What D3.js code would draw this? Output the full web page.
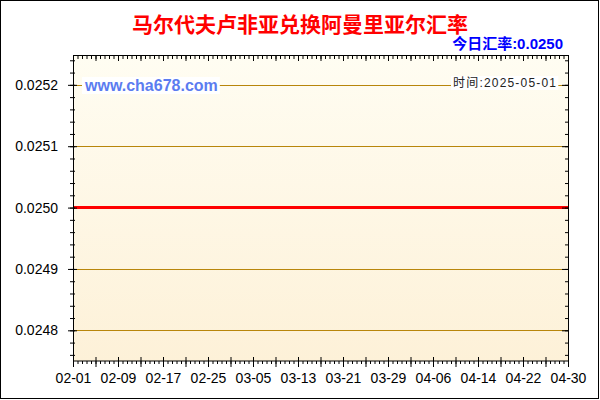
<!DOCTYPE html>
<html>
<head>
<meta charset="utf-8">
<script src="https://cdn.jsdelivr.net/npm/d3@7"></script>
<style>
    body { margin: 0; background: #fff; }
    svg { display: block; }
</style>
</head>
<body>
<div id="chart"></div>
<script>

// chart values
const titleText = "马尔代夫卢非亚兑换阿曼里亚尔汇率";
const todayLabel = "今日汇率:0.0250";
const timeLabel = "时间:2025-05-01";
const siteLabel = "www.cha678.com";

const tickLabels = ["02-01", "02-09", "02-17", "02-25", "03-05", "03-13",
    "03-21", "03-29", "04-06", "04-14", "04-22", "04-30"];
const yTickValues = [0.0248, 0.0249, 0.0250, 0.0251, 0.0252];
const yDomain = [0.02475, 0.025247];

const seriesDates = ["2025-02-01", "2025-02-09", "2025-02-17", "2025-02-25",
    "2025-03-05", "2025-03-13", "2025-03-21", "2025-03-29", "2025-04-06",
    "2025-04-14", "2025-04-22", "2025-04-30"];
const seriesRates = [0.0250, 0.0250, 0.0250, 0.0250, 0.0250, 0.0250,
    0.0250, 0.0250, 0.0250, 0.0250, 0.0250, 0.0250];

const W = 600, H = 400;
const margin = {top: 56, right: 32, bottom: 39, left: 73};
const width = W - margin.left - margin.right;
const height = H - margin.top - margin.bottom;

const parse = d3.utcParse("%Y-%m-%d");
const DAY = 864e5;
const start = parse(seriesDates[0]);
const end = parse(seriesDates[seriesDates.length - 1]);

const svg = d3.select("#chart").append("svg")
    .attr("width", W)
    .attr("height", H);

// background gradient of the plot area
const grad = svg.append("defs").append("linearGradient")
    .attr("id", "bg")
    .attr("x1", 0).attr("y1", 0).attr("x2", 0).attr("y2", 1);
grad.append("stop").attr("offset", "0%").attr("stop-color", "#fffdf2");
grad.append("stop").attr("offset", "100%").attr("stop-color", "#fdf1d8");

// outer frame
svg.append("rect")
    .attr("x", 0.5).attr("y", 0.5)
    .attr("width", 598).attr("height", 398)
    .attr("fill", "#fff")
    .attr("stroke", "#000");

const x = d3.scaleUtc().domain([start, end]).range([0, width]);
const y = d3.scaleLinear().domain(yDomain).range([height, 0]);

const plot = svg.append("g")
    .attr("transform", `translate(${margin.left},${margin.top})`);

plot.append("rect")
    .attr("width", width)
    .attr("height", height)
    .attr("fill", "url(#bg)");

// horizontal grid lines at the labelled values
plot.append("g").selectAll("line")
    .data(yTickValues)
    .enter().append("line")
    .attr("x1", 0).attr("x2", width)
    .attr("y1", d => Math.round(y(d)) + 0.5)
    .attr("y2", d => Math.round(y(d)) + 0.5)
    .attr("stroke", "#b8860b")
    .attr("stroke-width", 1);

// the rate line
const line = d3.line()
    .x((d, i) => x(parse(seriesDates[i])))
    .y(d => y(d));

plot.append("path")
    .datum(seriesRates)
    .attr("d", line)
    .attr("fill", "none")
    .attr("stroke", "#ff0000")
    .attr("stroke-width", 3);

// tick positions: majors every 4 days, 5 minors per major
const days = Math.round((end - start) / DAY);
const xMajor = d3.range(0, days + 1, 4).map(d => new Date(+start + d * DAY));
const xMinor = d3.range(0, days * 1.25 + 1).map(i => new Date(+start + i * 0.8 * DAY));
const yMinor = y.ticks(25);
const yMajor = y.ticks(5);

function tickAxis(axis, values, size, tr) {
    let g = plot.append("g")
        .attr("transform", tr || null)
        .call(axis.tickValues(values).tickSize(size).tickFormat(""));
    g.select(".domain").remove();
    return g;
}

// bottom: minors point out, majors cross the line
tickAxis(d3.axisBottom(x), xMinor, 3, `translate(0,${height})`);
tickAxis(d3.axisBottom(x), xMajor, 6, `translate(0,${height})`)
    .selectAll("line").attr("y1", -4);

// top: ticks point inward
tickAxis(d3.axisTop(x), xMinor, -3);
tickAxis(d3.axisTop(x), xMajor, -5);

// left: ticks cross the axis
tickAxis(d3.axisLeft(y), yMinor, 3).selectAll("line").attr("x1", 2);
tickAxis(d3.axisLeft(y), yMajor, 5).selectAll("line").attr("x1", 4);

// right: ticks point inward
tickAxis(d3.axisRight(y), yMinor, -3, `translate(${width},0)`);
tickAxis(d3.axisRight(y), yMajor, -6, `translate(${width},0)`);

plot.selectAll(".tick line").attr("stroke", "#000");

// plot frame
plot.append("rect")
    .attr("x", 0.5).attr("y", -0.5)
    .attr("width", width).attr("height", height + 0.5)
    .attr("fill", "none")
    .attr("stroke", "#000");

// tick labels
const xLabelAxis = plot.append("g")
    .attr("transform", `translate(0,${height})`)
    .call(d3.axisBottom(x)
        .tickValues(tickLabels.map(t => parse("2025-" + t)))
        .tickSize(0)
        .tickPadding(12)
        .tickFormat((d, i) => tickLabels[i]));

const yLabelAxis = plot.append("g")
    .call(d3.axisLeft(y)
        .tickValues(yTickValues)
        .tickSize(0)
        .tickPadding(15)
        .tickFormat(d3.format(".4f")));

[xLabelAxis, yLabelAxis].forEach(g => {
    g.select(".domain").remove();
    g.attr("font-family", "'Liberation Sans', Arial, sans-serif")
        .attr("font-size", 14);
    g.selectAll("text").attr("fill", "#000");
});

// title and notes
svg.append("text")
    .attr("x", 300)
    .attr("y", 32)
    .attr("text-anchor", "middle")
    .attr("font-family", "'Noto Sans CJK SC', sans-serif")
    .attr("font-weight", "bold")
    .attr("font-size", 21)
    .attr("fill", "#ff0000")
    .text(titleText);

svg.append("text")
    .attr("x", 563)
    .attr("y", 49)
    .attr("text-anchor", "end")
    .attr("font-family", "'Liberation Sans', 'Noto Sans CJK SC', sans-serif")
    .attr("font-weight", "bold")
    .attr("font-size", 15)
    .attr("fill", "#0000ff")
    .text(todayLabel);

function boxedText(txt, opts) {
    let g = svg.append("g");
    let bg = g.append("rect").attr("fill", "#fff");
    let t = g.append("text")
        .attr("x", opts.x)
        .attr("y", opts.y)
        .attr("font-family", opts.family)
        .attr("font-weight", opts.weight || "normal")
        .attr("font-size", opts.size)
        .attr("fill", opts.fill)
        .text(txt);
    if (opts.len) {
        t.attr("textLength", opts.len).attr("lengthAdjust", "spacing");
    }
    let b = t.node().getBBox();
    bg.attr("x", b.x - 2).attr("y", b.y)
        .attr("width", b.width + 4).attr("height", b.height);
}

boxedText(siteLabel, {
    x: 85, y: 91, size: 16, weight: "bold",
    family: "'Liberation Sans', Arial, sans-serif", fill: "#5b7cf0"
});

boxedText(timeLabel, {
    x: 453, y: 87, size: 12, len: 103,
    family: "'Liberation Sans', 'Noto Sans CJK SC', sans-serif", fill: "#222"
});

</script>
</body>
</html>
